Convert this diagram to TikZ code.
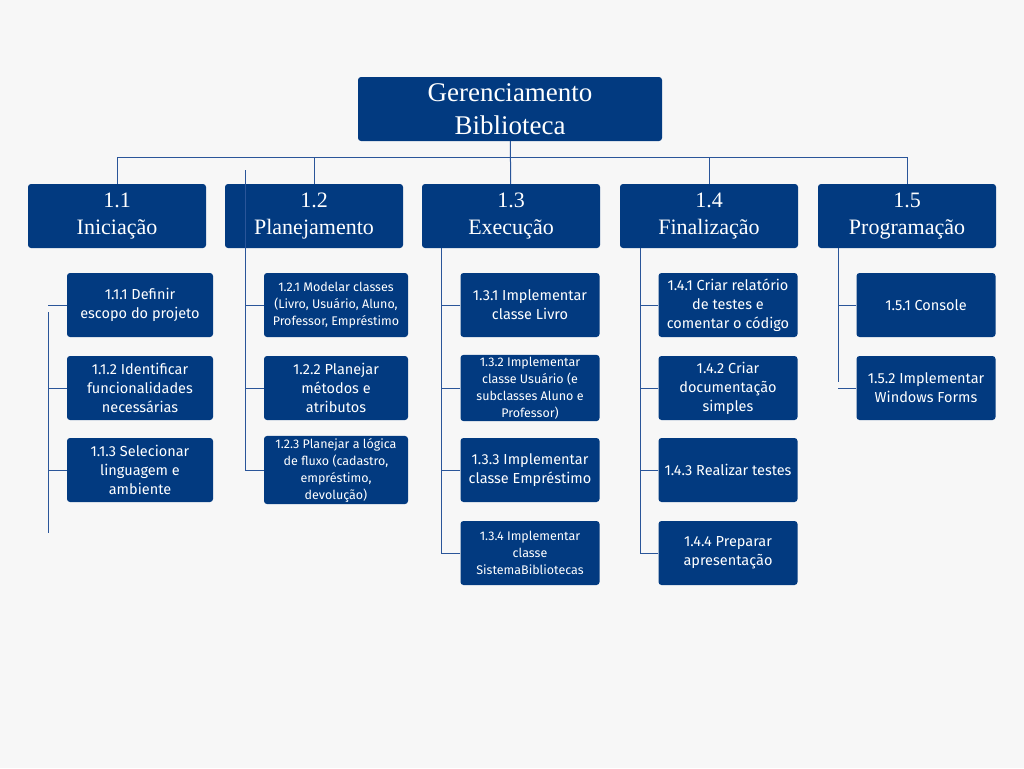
\documentclass[tikz,border=0pt]{standalone}
\usepackage{fontspec}
\setmainfont{Liberation Serif}
\setsansfont{Fira Sans}
\usepackage{tikz}

\definecolor{navy}{HTML}{023A80}
\definecolor{wire}{HTML}{2A5599}
\definecolor{paper}{HTML}{F7F7F7}

\tikzset{
    root/.style={fill=navy, rounded corners=3pt, text=white, minimum width=304pt,
        minimum height=64pt, align=center, font=\fontsize{27}{33}\selectfont},
    phase/.style={fill=navy, rounded corners=3pt, text=white, minimum width=178pt,
        minimum height=64pt, align=center, font=\fontsize{22}{27}\selectfont},
    task/.style={fill=navy, rounded corners=3pt, text=white, minimum width=141pt,
        minimum height=64pt, inner sep=2pt, align=center,
        font=\sffamily\fontsize{14.5}{19}\selectfont},
    small/.style={font=\sffamily\fontsize{12.5}{17}\selectfont},
    wire/.style={draw=wire, line width=1pt}
}

\begin{document}
\begin{tikzpicture}[x=1pt, y=-1pt]
    \fill[paper] (0,0) rectangle (1024,768);
    \useasboundingbox (0,0) rectangle (1024,768);

    \node[root] (root) at (510,109) {Gerenciamento\\Biblioteca};

    \node[phase] (p1) at (117,216) {1.1\\Iniciação};
    \node[phase] (p2) at (314,216) {1.2\\Planejamento};
    \node[phase] (p3) at (511,216) {1.3\\Execução};
    \node[phase] (p4) at (709,216) {1.4\\Finalização};
    \node[phase] (p5) at (907,216) {1.5\\Programação};

    \node[task, minimum width=146pt] (t11) at (140,305) {1.1.1 Definir\\escopo do projeto};
    \node[task, minimum width=146pt] (t12) at (140,388) {1.1.2 Identificar\\funcionalidades\\necessárias};
    \node[task, minimum width=146pt] (t13) at (140,470) {1.1.3 Selecionar\\linguagem e\\ambiente};

    \node[task, minimum width=144pt, small] (t21) at (336,305) {1.2.1 Modelar classes\\(Livro, Usuário, Aluno,\\Professor, Empréstimo};
    \node[task, minimum width=144pt] (t22) at (336,388) {1.2.2 Planejar\\métodos e\\atributos};
    \node[task, minimum width=144pt, small] (t23) at (336,470) {1.2.3 Planejar a lógica\\de fluxo (cadastro,\\empréstimo,\\devolução)};

    \node[task, minimum width=139pt] (t31) at (530,305) {1.3.1 Implementar\\classe Livro};
    \node[task, minimum width=139pt, small] (t32) at (530,388) {1.3.2 Implementar\\classe Usuário (e\\subclasses Aluno e\\Professor)};
    \node[task, minimum width=139pt] (t33) at (530,470) {1.3.3 Implementar\\classe Empréstimo};
    \node[task, minimum width=139pt, small] (t34) at (530,553) {1.3.4 Implementar\\classe\\SistemaBibliotecas};

    \node[task, minimum width=139pt] (t41) at (728,305) {1.4.1 Criar relatório\\de testes e\\comentar o código};
    \node[task, minimum width=139pt] (t42) at (728,388) {1.4.2 Criar\\documentação\\simples};
    \node[task, minimum width=139pt] (t43) at (728,470) {1.4.3 Realizar testes};
    \node[task, minimum width=139pt] (t44) at (728,553) {1.4.4 Preparar\\apresentação};

    \node[task, minimum width=139pt] (t51) at (926,305) {1.5.1 Console};
    \node[task, minimum width=139pt] (t52) at (926,388) {1.5.2 Implementar\\Windows Forms};

    % tree bus
    \draw[wire] (root) -- (p3);
    \draw[wire] (p1.north) -- ++(0,-26) -| (p5.north);
    \draw[wire] (p2.north) -- ++(0,-26);
    \draw[wire] (p4.north) -- ++(0,-26);

    % branch lines
    \coordinate (b1top) at (48,312);
    \coordinate (b1bot) at (48,533);
    \coordinate (b2top) at (245,170);
    \coordinate (b2bot) at (245,471);
    \coordinate (b3bot) at (441,554);
    \coordinate (b4bot) at (640,554);
    \coordinate (b5bot) at (838,382);

    \draw[wire] (b1top) -- (b1bot);
    \draw[wire] (b2top) -- (b2bot);
    \draw[wire] (p3.south -| b3bot) -- (b3bot);
    \draw[wire] (p4.south -| b4bot) -- (b4bot);
    \draw[wire] (p5.south -| b5bot) -- (b5bot);

    \foreach \t in {t11,t12,t13}
        \draw[wire] (\t.west) -- (\t.west -| b1top);
    \foreach \t in {t21,t22,t23}
        \draw[wire] (\t.west) -- (\t.west -| b2top);
    \foreach \t in {t31,t32,t33,t34}
        \draw[wire] (\t.west) -- (\t.west -| b3bot);
    \foreach \t in {t41,t42,t43,t44}
        \draw[wire] (\t.west) -- (\t.west -| b4bot);
    \foreach \t in {t51,t52}
        \draw[wire] (\t.west) -- (\t.west -| b5bot);
\end{tikzpicture}
\end{document}
